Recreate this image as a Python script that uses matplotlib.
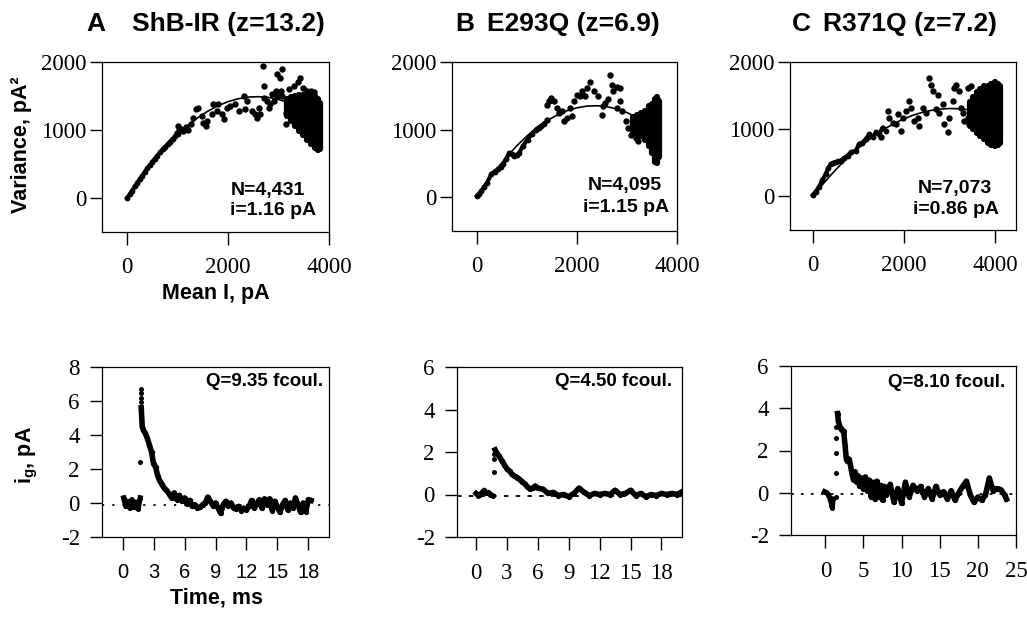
import matplotlib
matplotlib.use('Agg')
import matplotlib.pyplot as plt

plt.rcParams['font.family'] = ['Liberation Serif', 'DejaVu Serif']
plt.rcParams['mathtext.fontset'] = 'custom'
plt.rcParams['mathtext.rm'] = 'Liberation Sans'
plt.rcParams['mathtext.bf'] = 'Liberation Sans:bold'
plt.rcParams['axes.unicode_minus'] = False

SANS = 'Liberation Sans'

# ---- top row: variance vs mean current ----
# low-current track (drawn as a thick connected run), then scattered points
track_a_x = [0, 50, 100, 150, 200, 250, 300, 350, 400, 450, 500, 550, 600, 650, 700, 750,
             800, 850, 900, 950, 1000]
track_a_y = [0, 55, 110, 170, 225, 280, 330, 385, 440, 485, 535, 580, 625, 670, 715, 750,
             790, 830, 870, 905, 940]
mean_a = [1000, 1020, 980, 1060, 1107, 1160, 1207, 1273, 1307, 1373, 1407, 1473, 1507, 1560,
          1573, 1673, 1707, 1773, 1807, 1873, 1920, 1973, 2040, 2140, 2207, 2307, 2340, 2373,
          2473, 2540, 2573, 2607, 2640, 2693, 2707, 2707, 2773, 2807, 2840, 2873, 2907, 2940,
          2973, 2973, 3033, 3040, 3073, 3073, 3140, 3147, 3200, 3300, 3380, 3420, 3480, 3560,
          3640, 3700]
var_a = [1060, 1000, 960, 1010, 982, 1040, 1007, 1081, 1180, 1304, 1328, 1200, 1106, 1057,
         1130, 1230, 1378, 1280, 1378, 1230, 1156, 1328, 1355, 1378, 1279, 1501, 1304, 1427,
         1279, 1230, 1180, 1328, 1230, 1936, 1649, 1476, 1427, 1328, 1378, 1525, 1427, 1575,
         1822, 1501, 1760, 1575, 1896, 1501, 1254, 1081, 1600, 1650, 1700, 1760, 1620, 1580,
         1570, 1560]
blob_a_x = [3160, 3240, 3320, 3400, 3480, 3560, 3640, 3720, 3780, 3820]
blob_a_lo = [1200, 1130, 1060, 980, 920, 860, 800, 740, 700, 720]
blob_a_hi = [1450, 1480, 1500, 1520, 1520, 1530, 1520, 1500, 1450, 1400]
fit_a_x = [0, 200, 400, 600, 800, 1000, 1200, 1400, 1600, 1800, 2000, 2200, 2400, 2600,
           2800, 3000, 3200, 3400, 3600, 3800]
fit_a_y = [0, 223, 428, 615, 784, 934, 1067, 1182, 1278, 1357, 1417, 1460, 1484, 1490,
           1479, 1449, 1401, 1335, 1251, 1149]

track_b_x = [0, 40, 85, 140, 200, 283, 350, 416, 470, 515, 580, 647, 700, 746, 800, 845, 920,
             1010, 1090, 1175, 1230, 1274, 1340]
track_b_y = [19, 50, 93, 150, 210, 338, 380, 412, 450, 485, 560, 657, 640, 607, 630, 657, 760,
             853, 930, 1000, 1030, 1049, 1090]
mean_b = [1406, 1406, 1440, 1472, 1538, 1604, 1640, 1703, 1736, 1802, 1868, 1934, 2000, 2066,
          2099, 2198, 2264, 2330, 2429, 2528, 2495, 2660, 2693, 2726, 2792, 2858, 2858, 2792,
          2891, 2990, 3023, 3089, 3188, 3221, 2560, 2620, 1900, 2150]
var_b = [1147, 1368, 1420, 1466, 1417, 1319, 1250, 1270, 1122, 1172, 1319, 1417, 1515, 1490,
         1564, 1613, 1711, 1564, 1490, 1343, 1221, 1809, 1662, 1564, 1637, 1613, 1417, 1319,
         1270, 1122, 1024, 926, 877, 828, 1400, 1450, 1200, 1500]
blob_b_x = [3120, 3200, 3280, 3360, 3440, 3500, 3560, 3600, 3640]
blob_b_lo = [980, 940, 900, 840, 760, 650, 520, 500, 600]
blob_b_hi = [1180, 1220, 1250, 1280, 1350, 1380, 1450, 1480, 1420]
fit_b_x = [0, 200, 400, 600, 800, 1000, 1200, 1400, 1600, 1800, 2000, 2200, 2400, 2600,
           2800, 3000, 3200, 3400, 3600]
fit_b_y = [0, 220, 421, 602, 764, 906, 1028, 1131, 1215, 1279, 1323, 1348, 1353, 1339,
           1305, 1252, 1179, 1087, 975]

track_c_x = [0, 60, 139, 210, 286, 340, 396, 450, 505, 560, 615, 690, 762, 835, 945, 1018,
             1090, 1165, 1238, 1311, 1385, 1458, 1531, 1604]
track_c_y = [19, 70, 142, 240, 338, 420, 485, 500, 510, 520, 534, 570, 607, 657, 681, 779,
             800, 853, 926, 877, 951, 926, 1025, 975]
mean_c = [1641, 1678, 1751, 1824, 1861, 1934, 1971, 2044, 2117, 2154, 2227, 2300, 2337, 2410,
          2483, 2557, 2593, 2630, 2740, 2777, 2850, 2887, 2960, 2996, 3070, 3106, 3143, 3216,
          3253, 3289, 3326, 3399, 3473, 3509, 3436, 3399, 2700, 1500]
var_c = [1270, 1172, 1098, 1073, 1221, 975, 1172, 1270, 1417, 1319, 1122, 1172, 1049, 1319,
         1245, 1760, 1662, 1564, 1515, 1245, 1368, 1073, 951, 1172, 1417, 1613, 1662, 1564,
         1319, 1245, 1122, 1613, 1637, 1466, 1073, 1172, 1300, 880]
blob_c_x = [3440, 3520, 3600, 3680, 3760, 3840, 3920, 4000, 4060, 4100]
blob_c_lo = [1050, 1000, 950, 900, 850, 800, 760, 750, 760, 800]
blob_c_hi = [1400, 1480, 1560, 1600, 1640, 1650, 1680, 1700, 1680, 1650]
fit_c_x = [0, 200, 400, 600, 800, 1000, 1200, 1400, 1600, 1800, 2000, 2200, 2400, 2600,
           2800, 3000, 3200, 3400, 3600, 3800, 4000, 4100]
fit_c_y = [0, 166, 321, 465, 598, 719, 828, 927, 1014, 1090, 1154, 1208, 1250, 1280,
           1300, 1308, 1304, 1290, 1264, 1226, 1178, 1149]

# ---- bottom row: gating current traces ----
t_a_pre = [0.1, 0.3, 0.5, 0.7, 0.9, 1.1, 1.3, 1.5, 1.7]
ig_a_pre = [0.3, -0.2, 0.1, -0.3, 0.2, -0.25, 0.05, -0.35, 0.3]
t_a_jump = [1.65, 1.75, 1.75, 1.75, 1.75]
ig_a_jump = [2.4, 6.7, 6.45, 6.2, 5.95]
t_a = [1.8, 1.9, 2.0, 2.2, 2.4, 2.6, 2.8, 3.0, 3.2, 3.4, 3.6, 3.8, 4.0,
       4.25, 4.5, 4.75, 5.0, 5.25, 5.5, 5.75, 6.0, 6.25, 6.5,
       6.75, 7.0, 7.25, 7.5, 7.75, 8.0, 8.25, 8.5, 8.75, 9.0,
       9.25, 9.5, 9.75, 10.0, 10.25, 10.5, 10.75, 11.0, 11.25, 11.5,
       11.75, 12.0, 12.25, 12.5, 12.75, 13.0, 13.25, 13.5, 13.75, 14.0,
       14.25, 14.5, 14.75, 15.0, 15.25, 15.5, 15.75, 16.0, 16.25, 16.5,
       16.75, 17.0, 17.25, 17.5, 17.75, 18.0, 18.25]
ig_a = [5.6, 4.5, 4.3, 4.1, 3.8, 3.4, 3.0, 2.3, 2.1, 1.6, 1.3, 1.1, 0.9,
        0.75, 0.55, 0.3, 0.6, 0.2, 0.45, 0.1, 0.3, -0.05, 0.15,
        -0.2, -0.1, -0.3, -0.25, -0.1, 0.0, 0.35, 0.1, -0.15, 0.0,
        -0.3, -0.6, -0.1, 0.1, -0.15, 0.0, -0.3, -0.35, -0.2, -0.45,
        -0.3, -0.4, -0.2, 0.15, -0.3, -0.05, 0.2, -0.3, 0.25, -0.1,
        0.25, -0.45, 0.1, -0.25, -0.55, -0.1, 0.15, -0.4, 0.0, -0.3,
        0.3, -0.1, -0.55, 0.0, -0.5, 0.2, 0.15]

t_b_pre = [0.0, 0.2, 0.4, 0.6, 0.8, 1.0, 1.2, 1.4, 1.6]
ig_b_pre = [0.05, -0.05, 0.0, 0.1, 0.2, 0.05, 0.1, 0.0, -0.05]
t_b_jump = [1.7, 1.7, 1.75]
ig_b_jump = [1.05, 1.65, 1.9]
t_b = [1.85, 2.0, 2.25, 2.5, 2.75, 3.0, 3.25, 3.5, 3.75, 4.0, 4.25, 4.5, 4.75, 5.0,
       5.25, 5.5, 5.75, 6.0, 6.5, 7.0, 7.5, 8.0, 8.5, 9.0, 9.5, 10.0, 10.5, 11.0,
       11.5, 12.0, 12.5, 13.0, 13.5, 14.0, 14.5, 15.0, 15.5, 16.0, 16.5, 17.0, 17.5,
       18.0, 18.5, 19.0, 19.5, 19.9]
ig_b = [2.1, 1.95, 1.8, 1.6, 1.4, 1.2, 1.1, 0.95, 0.85, 0.8, 0.7, 0.6, 0.5, 0.35,
        0.25, 0.3, 0.4, 0.3, 0.25, 0.05, 0.1, -0.05, 0.0, -0.1, 0.05, 0.3, 0.1, -0.05,
        0.05, 0.0, 0.05, 0.0, 0.2, 0.0, 0.05, 0.2, -0.05, 0.05, -0.1, 0.0, -0.05,
        0.05, 0.0, 0.05, 0.0, 0.1]

t_c_pre = [-0.1, 0.2, 0.4, 0.6, 0.8, 0.9, 1.0]
ig_c_pre = [0.05, 0.0, -0.1, -0.25, -0.5, -0.7, -0.3]
t_c_jump = [1.4, 1.45, 1.45, 1.45, 1.45]
ig_c_jump = [-0.2, 0.95, 1.9, 2.6, 3.1]
t_c = [1.6, 1.7, 1.85, 2.0, 2.2, 2.4, 2.6, 2.75, 2.9, 3.1, 3.3, 3.5, 3.7, 3.9, 4.1,
       4.3, 4.5, 4.75, 5.0, 5.25, 5.5, 5.75, 6.0, 6.25, 6.5, 6.75, 7.0, 7.25, 7.5,
       7.75, 8.0, 8.5, 9.0, 9.5, 10.0, 10.5, 11.0, 11.5, 12.0, 12.5, 13.0, 13.5,
       14.0, 14.5, 15.0, 15.5, 16.0, 16.5, 17.0, 17.5, 18.0, 18.5, 19.0, 19.5, 20.0,
       20.5, 21.0, 21.5, 22.0, 22.5, 23.0, 23.5, 23.75]
ig_c = [3.75, 3.4, 3.2, 3.05, 2.95, 2.9, 2.2, 1.6, 1.5, 1.6, 1.3, 0.9, 0.6, 1.0, 0.5,
        0.8, 0.3, 0.7, 0.2, 0.75, 0.1, 0.6, -0.2, 0.5, -0.3, 0.55, -0.2, 0.35, -0.35,
        0.3, -0.1, 0.4, -0.45, 0.2, -0.5, 0.5, -0.2, 0.35, 0.1, 0.3, -0.2, 0.2,
        -0.3, 0.3, -0.1, 0.05, -0.3, 0.1, -0.35, 0.0, 0.3, 0.55, -0.1, -0.45, -0.2,
        -0.35, -0.1, 0.7, 0.1, 0.2, 0.15, -0.1, -0.3]

titles = ['ShB-IR (z=13.2)', 'E293Q (z=6.9)', 'R371Q (z=7.2)']
letters = ['A', 'B', 'C']
n_labels = ['N=4,431', 'N=4,095', 'N=7,073']
i_labels = ['i=1.16 pA', 'i=1.15 pA', 'i=0.86 pA']
q_labels = ['Q=9.35 fcoul.', 'Q=4.50 fcoul.', 'Q=8.10 fcoul.']

W, H = 1027, 624
fig = plt.figure(figsize=(W / 100, H / 100), dpi=100)


def px_axes(left, top, right, bottom):
    return fig.add_axes([left / W, 1 - bottom / H, (right - left) / W, (bottom - top) / H])


def style(ax, xpad, ypad):
    for s in ax.spines.values():
        s.set_linewidth(0.9)
    ax.tick_params(direction='out', length=9, width=1.0, labelsize=16.5)
    ax.tick_params(axis='x', pad=xpad)
    ax.tick_params(axis='y', pad=ypad)


top_boxes = [(102, 62, 329, 232), (452, 62, 677, 231), (790, 62, 1016, 230)]
top_xmax = [4000, 4000, 4460]
top_data = [
    (track_a_x, track_a_y, mean_a, var_a, blob_a_x, blob_a_lo, blob_a_hi, fit_a_x, fit_a_y),
    (track_b_x, track_b_y, mean_b, var_b, blob_b_x, blob_b_lo, blob_b_hi, fit_b_x, fit_b_y),
    (track_c_x, track_c_y, mean_c, var_c, blob_c_x, blob_c_lo, blob_c_hi, fit_c_x, fit_c_y),
]
n_pos = [(0.565, 0.247, 0.124), (0.604, 0.272, 0.142), (0.566, 0.25, 0.125)]
i_dx = [0.0, -0.022, -0.022]

for k in range(3):
    ax = px_axes(*top_boxes[k])
    tx, ty, mx, vy, bx, blo, bhi, fx, fy = top_data[k]
    ax.plot(fx, fy, color='black', lw=1.2, zorder=2)
    ax.plot(tx, ty, '-o', color='black', lw=3.0, ms=4.2, mew=0, zorder=3)
    ax.plot(mx, vy, 'o', color='black', ms=4.6, mew=0, zorder=3)
    vl = ax.vlines(bx, blo, bhi, color='black', lw=4.5, zorder=3)
    vl.set_capstyle('round')
    ax.set_xlim(-500, top_xmax[k])
    ax.set_ylim(-500, 2000)
    ax.set_xticks([0, 2000, 4000])
    ax.set_yticks([0, 1000, 2000])
    style(ax, 9, 2.5)
    nx, ny, iy = n_pos[k]
    ax.text(nx, ny, n_labels[k], transform=ax.transAxes, family=SANS, weight='bold',
            fontsize=14, ha='left', va='center')
    ax.text(nx + i_dx[k], iy, i_labels[k], transform=ax.transAxes, family=SANS,
            weight='bold', fontsize=14, ha='left', va='center')

letter_x = [86, 455, 792]
title_x = [132, 487, 823]
for k in range(3):
    fig.text(letter_x[k] / W, 1 - 24 / H, letters[k], family=SANS, weight='bold',
             fontsize=19, ha='left', va='center')
    fig.text(title_x[k] / W, 1 - 24 / H, titles[k], family=SANS, weight='bold',
             fontsize=19, ha='left', va='center')

bot_boxes = [(102, 367, 329, 537), (457, 367, 682, 537), (791, 366, 1016, 535)]
bot_xlim = [(-2, 20), (-1.85, 20), (-4.5, 25)]
bot_ylim = [(-2, 8), (-2, 6), (-2, 6)]
bot_xticks = [[0, 3, 6, 9, 12, 15, 18], [0, 3, 6, 9, 12, 15, 18], [0, 5, 10, 15, 20, 25]]
bot_yticks = [[-2, 0, 2, 4, 6, 8], [-2, 0, 2, 4, 6], [-2, 0, 2, 4, 6]]
bot_data = [
    (t_a_pre, ig_a_pre, t_a_jump, ig_a_jump, t_a, ig_a),
    (t_b_pre, ig_b_pre, t_b_jump, ig_b_jump, t_b, ig_b),
    (t_c_pre, ig_c_pre, t_c_jump, ig_c_jump, t_c, ig_c),
]
base_level = [-0.14, -0.08, -0.05]
base_style = [(0, (1.2, 4.5)), (0, (2.5, 4)), (0, (1.5, 4))]
q_pos = [(0.974, 0.912), (0.956, 0.912), (0.951, 0.905)]

for k in range(3):
    ax = px_axes(*bot_boxes[k])
    tp, yp, tj, yj, td, yd = bot_data[k]
    ax.axhline(base_level[k], color='black', lw=1.3, linestyle=base_style[k], zorder=1)
    ax.plot(tp, yp, '-o', color='black', lw=3.8, ms=3.6, mew=0, zorder=3)
    ax.plot(tj, yj, 'o', color='black', ms=3.6, mew=0, zorder=3)
    ax.plot(td, yd, '-o', color='black', lw=4.0, ms=3.8, mew=0, zorder=3,
            solid_joinstyle='round')
    ax.set_xlim(*bot_xlim[k])
    ax.set_ylim(*bot_ylim[k])
    ax.set_xticks(bot_xticks[k])
    ax.set_yticks(bot_yticks[k])
    style(ax, 10, 7)
    if k == 0:
        for lab in ax.get_xticklabels():
            lab.set_family(SANS)
            lab.set_fontsize(14.5)
    qx, qy = q_pos[k]
    ax.text(qx, qy, q_labels[k], transform=ax.transAxes, family=SANS, weight='bold',
            fontsize=13.5, ha='right', va='center')

fig.text(22 / W, 1 - 145 / H, 'Variance, pA\u00b2', family=SANS, weight='bold',
         fontsize=15.5, rotation=90, ha='center', va='center')
fig.text(216 / W, 1 - 293 / H, 'Mean I, pA', family=SANS, weight='bold', fontsize=15.5,
         ha='center', va='center')
fig.text(27 / W, 1 - 455 / H, r'$\mathbf{i_g}$, pA', family=SANS, weight='bold',
         fontsize=15.5, rotation=90, ha='center', va='center')
fig.text(216 / W, 1 - 598 / H, 'Time, ms', family=SANS, weight='bold', fontsize=15.5,
         ha='center', va='center')

fig.savefig('out.png', dpi=100)
